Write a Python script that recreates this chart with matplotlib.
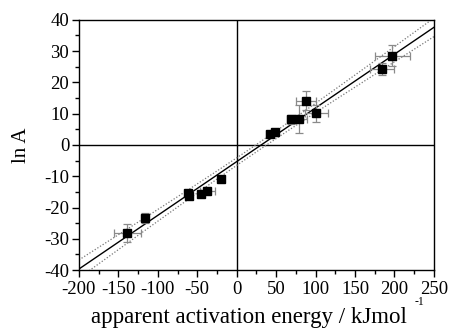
import numpy as np
import matplotlib
matplotlib.use("Agg")
import matplotlib.pyplot as plt
from matplotlib.ticker import MultipleLocator

plt.rcParams['font.family'] = ['Liberation Serif', 'DejaVu Serif']
plt.rcParams['axes.unicode_minus'] = False

# Data
energy = [-138.5, -116.6, -60.4, -61.5, -44.7, -37.1, -20.3,
          41.8, 49.0, 69.3, 79.0, 88.3, 101.0, 184.0, 197.3]
lnA = [-28.2, -23.4, -16.2, -15.5, -15.7, -14.6, -10.8,
       3.6, 4.0, 8.2, 8.4, 14.1, 10.1, 24.3, 28.6]
energy_err = [17, 3, 4, 4, 3, 9.5, 3,
              5, 4, 5, 10, 12.7, 15, 15, 22]
lnA_err = [2.8, 1.5, 1.0, 1.0, 1.0, 1.0, 1.0,
           1.0, 1.0, 1.5, 4.5, 3.0, 2.7, 2.0, 3.4]

x = np.array(energy)
y = np.array(lnA)

fig = plt.figure(figsize=(4.51, 3.31), dpi=100)
ax = fig.add_axes([0.175, 0.184, 0.787, 0.756])

# zero lines
ax.axhline(0, color='black', lw=1.0, zorder=1)
ax.axvline(0, color='black', lw=1.0, zorder=1)

# linear fit and 95% confidence band
n = len(x)
slope, intercept = np.polyfit(x, y, 1)
xx = np.linspace(-200, 250, 200)
yy = slope * xx + intercept
resid = y - (slope * x + intercept)
s = np.sqrt(np.sum(resid**2) / (n - 2))
sxx = np.sum((x - x.mean())**2)
t = 2.16
band = t * s * np.sqrt(1.0 / n + (xx - x.mean())**2 / sxx)
ax.plot(xx, yy, color='black', lw=1.0, zorder=2)
ax.plot(xx, yy + band, color='#777777', lw=0.9, ls=(0, (1, 1.5)), zorder=2)
ax.plot(xx, yy - band, color='#777777', lw=0.9, ls=(0, (1, 1.5)), zorder=2)

ax.errorbar(x, y, xerr=energy_err, yerr=lnA_err, fmt='s', color='black',
            ms=5.5, ecolor='#8a8a8a', elinewidth=0.9, capsize=3, capthick=0.9,
            zorder=3)

ax.set_xlim(-200, 250)
ax.set_ylim(-40, 40)
ax.xaxis.set_major_locator(MultipleLocator(50))
ax.xaxis.set_minor_locator(MultipleLocator(25))
ax.yaxis.set_major_locator(MultipleLocator(10))
ax.yaxis.set_minor_locator(MultipleLocator(5))
ax.tick_params(which='both', direction='out', top=False, right=False,
               labelsize=13.5, width=1.0)
ax.tick_params(which='major', length=5)
ax.tick_params(which='minor', length=3)
ax.tick_params(axis='x', pad=3)
ax.tick_params(axis='y', pad=2)
for sp in ax.spines.values():
    sp.set_linewidth(1.0)

ax.set_ylabel('ln A', fontsize=15)
ax.yaxis.set_label_coords(-0.136, 0.5)
fig.text(0.552, 0.024, 'apparent activation energy / kJmol', ha='center',
         va='baseline', fontsize=16.5)
fig.text(0.93, 0.088, '-1', ha='center', va='center', fontsize=8.5)

fig.savefig('out.png', dpi=100)
